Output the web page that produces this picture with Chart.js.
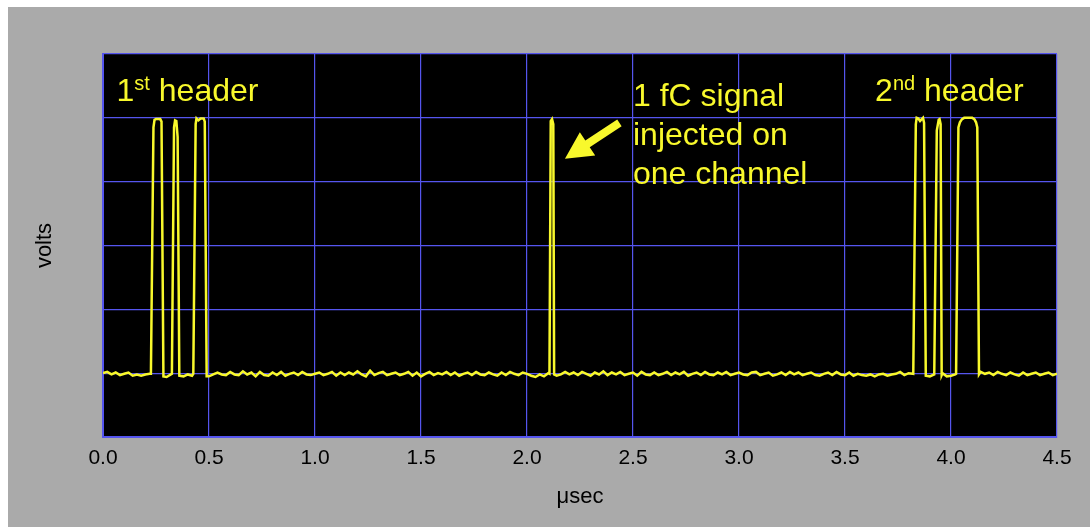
<!DOCTYPE html>
<html lang="en">
<head>
    <meta charset="UTF-8">
    <script src="https://cdn.jsdelivr.net/npm/chart.js"></script>
    <title>Header and 1 fC signal</title>
    <style>
        html, body { margin: 0; padding: 0; background: #ffffff; }
        #wrap { width: 1090px; height: 527px; position: relative; }
    </style>
</head>
<body>
<div id="wrap">
    <canvas id="scope"></canvas>
</div>
<script>
// x axis
var xTickLabels = ['0.0', '0.5', '1.0', '1.5', '2.0', '2.5', '3.0', '3.5', '4.0', '4.5'];

// baseline trace, one sample every 0.02 usec from 0.0 to 4.5
var sampleStep = 0.02;
var baseline = [
    0.00, 0.02, -0.02, 0.01, -0.03, -0.01, 0.01, -0.04, -0.02, -0.04,
    -0.02, -0.01, 0.00, 0.00, 0.00, -0.06, -0.02, 0.00, 0.00, -0.05,
    -0.02, -0.04, 0.00, 0.00, 0.00, -0.05, -0.02, 0.01, -0.02, -0.03,
    0.02, -0.02, -0.03, 0.03, -0.02, 0.01, -0.05, 0.02, -0.03, -0.04,
    0.01, -0.03, 0.02, -0.04, -0.01, 0.01, -0.03, 0.02, -0.02, -0.03,
    -0.01, 0.01, -0.03, -0.01, 0.02, -0.04, 0.01, -0.03, 0.01, -0.02,
    0.03, -0.02, -0.05, 0.04, -0.03, 0.00, 0.02, -0.03, -0.01, 0.01,
    -0.03, -0.01, 0.02, -0.04, 0.01, -0.05, -0.01, 0.02, -0.03, 0.00,
    -0.02, 0.02, -0.03, 0.01, -0.04, -0.01, 0.01, -0.03, 0.02, -0.02,
    -0.03, 0.01, -0.02, -0.04, 0.01, -0.03, 0.02, -0.01, -0.03, 0.01,
    -0.01, -0.04, -0.06, -0.02, -0.05, 0.00, 0.00, -0.04, -0.02, 0.02,
    -0.02, 0.01, -0.03, 0.02, -0.01, -0.04, 0.01, -0.02, 0.03, -0.03,
    0.01, -0.02, 0.02, -0.03, -0.01, 0.01, -0.04, 0.02, -0.02, -0.03,
    0.01, -0.03, -0.01, 0.02, -0.03, 0.01, -0.02, 0.02, -0.04, -0.01,
    0.01, -0.03, 0.02, -0.02, -0.03, 0.01, -0.02, 0.02, -0.03, -0.01,
    0.01, -0.02, -0.03, 0.01, 0.02, -0.03, -0.01, 0.01, -0.04, -0.02,
    0.01, -0.03, 0.02, -0.02, 0.01, -0.03, -0.01, 0.01, -0.03, -0.04,
    -0.01, 0.01, -0.03, 0.02, -0.02, -0.03, 0.01, -0.04, -0.01, -0.03,
    -0.04, -0.02, -0.05, -0.02, -0.01, -0.04, -0.02, -0.01, 0.02, -0.03,
    0.00, 0.00, 0.00, 0.00, 0.00, -0.05, -0.06, 0.00, 0.00, -0.05,
    -0.04, -0.02, 0.00, 0.00, 0.00, 0.00, 0.00, 0.02, -0.01, 0.01,
    -0.03, 0.02, -0.01, -0.03, 0.01, -0.02, -0.04, 0.01, -0.03, -0.01,
    0.01, -0.03, -0.01, 0.01, -0.03, -0.01
];

// the pulses: [time usec, volts]
var pulses = [
    // 1st header
    [[0.226, -0.01], [0.238, 3.85], [0.243, 3.97], [0.250, 3.98], [0.270, 3.98], [0.276, 3.94], [0.285, -0.05]],
    [[0.325, -0.01], [0.335, 3.85], [0.340, 3.96], [0.346, 3.95], [0.352, 3.70], [0.360, -0.04]],
    [[0.426, -0.01], [0.437, 3.90], [0.441, 3.99], [0.450, 3.96], [0.460, 3.99], [0.475, 3.99], [0.480, 3.94], [0.489, -0.05]],
    // 1 fC signal
    [[2.106, -0.01], [2.112, 3.95], [2.118, 3.98], [2.124, 3.90], [2.128, -0.02]],
    // 2nd header
    [[3.822, -0.01], [3.834, 3.90], [3.838, 4.00], [3.846, 3.99], [3.854, 3.95], [3.862, 3.98], [3.868, 4.00], [3.873, 3.92], [3.881, -0.04]],
    [[3.921, -0.02], [3.933, 3.80], [3.942, 3.97], [3.946, 3.98], [3.951, 3.90], [3.956, -0.03]],
    [[4.024, -0.01], [4.035, 3.85], [4.042, 3.93], [4.052, 3.98], [4.062, 4.00], [4.100, 4.00], [4.110, 3.98], [4.118, 3.93], [4.124, 3.85], [4.132, -0.02]]
];

// merge baseline samples and pulse points into one trace
var trace = [];
baseline.forEach(function (v, i) {
    var t = +(i * sampleStep).toFixed(2);
    var inside = pulses.some(function (p) {
        return t > p[0][0] - 0.004 && t < p[p.length - 1][0] + 0.004;
    });
    if (!inside) trace.push({ x: t, y: v });
});
pulses.forEach(function (p) {
    p.forEach(function (pt) { trace.push({ x: pt[0], y: pt[1] }); });
});
trace.sort(function (a, b) { return a.x - b.x; });

var gridBlue = '#5555ee';
var yellow = '#f8f82c';
var font = "Arial, 'Liberation Sans', sans-serif";

// frame: white edge, grey panel, black plot area
var framePlugin = {
    id: 'frame',
    beforeDraw: function (chart) {
        var c = chart.ctx, a = chart.chartArea;
        c.save();
        c.fillStyle = '#ffffff';
        c.fillRect(0, 0, chart.width, chart.height);
        c.fillStyle = '#aaaaaa';
        c.fillRect(8, 7, chart.width - 8, chart.height - 7);
        c.fillStyle = '#000000';
        c.fillRect(a.left, a.top, a.right - a.left, a.bottom - a.top);
        c.restore();
    }
};

// labels and the arrow, placed in data units
var notesPlugin = {
    id: 'notes',
    afterDraw: function (chart) {
        var c = chart.ctx, xs = chart.scales.x, ys = chart.scales.y;
        function px(x) { return xs.getPixelForValue(x); }
        function py(y) { return ys.getPixelForValue(y); }
        c.save();
        c.fillStyle = yellow;
        c.textBaseline = 'alphabetic';
        c.textAlign = 'left';

        function header(num, sup, x, y) {
            var x0 = px(x), y0 = py(y);
            c.font = '32px ' + font;
            c.fillText(num, x0, y0);
            var w = c.measureText(num).width;
            c.font = '20px ' + font;
            c.fillText(sup, x0 + w, y0 - 11);
            var w2 = c.measureText(sup).width;
            c.font = '32px ' + font;
            c.fillText(' header', x0 + w + w2, y0);
        }
        header('1', 'st', 0.064, 4.26);
        header('2', 'nd', 3.642, 4.26);

        c.font = '32px ' + font;
        c.fillText('1 fC signal', px(2.5), py(4.19));
        c.fillText('injected on', px(2.5), py(3.58));
        c.fillText('one channel', px(2.5), py(2.97));

        // arrow pointing at the signal
        var tx = px(2.179), ty = py(3.36), sx = px(2.436), sy = py(3.92);
        var dx = sx - tx, dy = sy - ty, len = Math.sqrt(dx * dx + dy * dy);
        var ux = dx / len, uy = dy / len, nx = -uy, ny = ux;
        var headLen = 27, headHalf = 14, shaftHalf = 4;
        var bx = tx + ux * headLen, by = ty + uy * headLen;
        c.beginPath();
        c.moveTo(tx, ty);
        c.lineTo(bx + nx * headHalf, by + ny * headHalf);
        c.lineTo(bx + nx * shaftHalf, by + ny * shaftHalf);
        c.lineTo(sx + nx * shaftHalf, sy + ny * shaftHalf);
        c.lineTo(sx - nx * shaftHalf, sy - ny * shaftHalf);
        c.lineTo(bx - nx * shaftHalf, by - ny * shaftHalf);
        c.lineTo(bx - nx * headHalf, by - ny * headHalf);
        c.closePath();
        c.fill();
        c.restore();
    }
};

var ctx = document.getElementById('scope').getContext('2d');
var scope = new Chart(ctx, {
    type: 'line',
    data: {
        datasets: [{
            label: 'volts',
            data: trace,
            borderColor: yellow,
            borderWidth: 2.5,
            pointRadius: 0,
            tension: 0,
            fill: false
        }]
    },
    options: {
        responsive: true,
        maintainAspectRatio: false,
        animation: false,
        events: [],
        layout: { padding: { top: 54, right: 33, left: 0, bottom: 0 } },
        plugins: {
            legend: { display: false },
            tooltip: { enabled: false }
        },
        scales: {
            x: {
                type: 'linear',
                min: 0,
                max: 4.5,
                afterFit: function (s) { s.height = 90; },
                grid: { color: gridBlue, lineWidth: 1.2, drawTicks: false },
                border: { color: gridBlue, width: 2 },
                ticks: {
                    stepSize: 0.5,
                    padding: 9,
                    color: '#000000',
                    font: { family: font, size: 21 },
                    maxRotation: 0,
                    callback: function (v, i) { return xTickLabels[i]; }
                },
                title: {
                    display: true,
                    text: 'μsec',
                    color: '#000000',
                    font: { family: font, size: 22 },
                    padding: { top: 0, bottom: 17 }
                }
            },
            y: {
                type: 'linear',
                min: -1,
                max: 5,
                afterFit: function (s) { s.width = 103; },
                grid: { color: gridBlue, lineWidth: 1.2, drawTicks: false },
                border: { color: gridBlue, width: 2 },
                ticks: { stepSize: 1, display: false },
                title: {
                    display: true,
                    text: 'volts',
                    color: '#000000',
                    font: { family: font, size: 22 },
                    padding: { top: 32, bottom: 0 }
                }
            }
        }
    },
    plugins: [framePlugin, notesPlugin]
});
</script>
</body>
</html>
